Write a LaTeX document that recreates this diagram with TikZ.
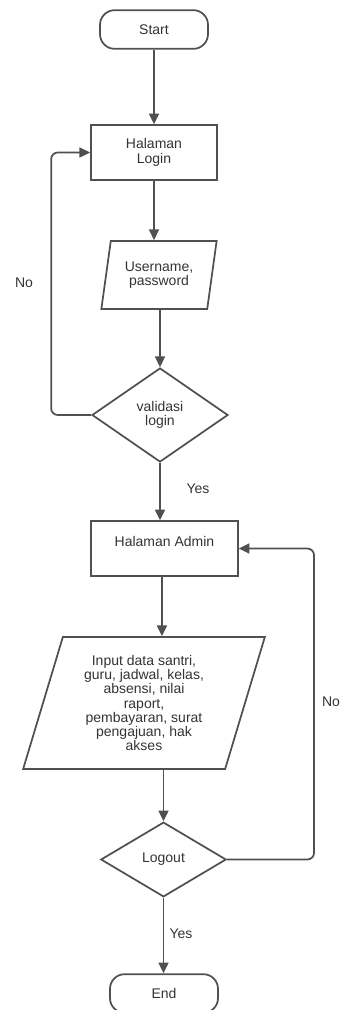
\documentclass[tikz,border=0pt]{standalone}
\usepackage{fontspec}
\setmainfont{Liberation Sans}
\usetikzlibrary{shapes.geometric,arrows.meta}
\definecolor{linegray}{HTML}{505050}
\definecolor{textgray}{HTML}{333333}
\begin{document}
\begin{tikzpicture}[x=0.75pt,y=-0.75pt,
  every node/.style={font=\fontsize{10.5pt}{10.7pt}\selectfont, text=textgray},
  base/.style={draw=linegray, line width=1.3pt, inner sep=0pt, align=center},
  terminal/.style={base, rectangle, rounded corners=11pt, minimum width=81pt, minimum height=29pt},
  process/.style={base, rectangle, minimum height=41pt},
  io/.style={base, trapezium, trapezium stretches=true},
  decision/.style={base, diamond},
  flow/.style={draw=linegray, line width=1.3pt, -{Triangle[length=8pt,width=7.5pt]}},
  tag/.style={inner sep=0pt}]
  \useasboundingbox (0,0) rectangle (341,1010);
  \clip (0,0) rectangle (341,1010);

  % shapes of the flow, top to bottom
  \node[terminal] (start) at (154,29.5) {Start};
  \node[process, minimum width=94.5pt] (login) at (154,152.5) {Halaman\\Login};
  \node[io, trapezium left angle=76, trapezium right angle=104,
        minimum width=87pt, minimum height=51pt] (user) at (159,275) {Username,\\password};
  \node[decision, minimum width=102pt, minimum height=70.5pt] (val) at (160,415) {validasi\\login};
  \node[process, minimum width=110pt] (admin) at (164.5,548.5) {Halaman Admin\\\mbox{}};
  \node[io, trapezium left angle=73, trapezium right angle=107,
        minimum width=181.5pt, minimum height=99pt] (input) at (144,703)
        {Input data santri,\\guru, jadwal, kelas,\\absensi, nilai\\raport,\\pembayaran, surat\\pengajuan, hak\\akses};
  \node[decision, minimum width=94pt, minimum height=56pt] (logout) at (163.5,859.5) {Logout};
  \node[terminal] (end) at (164,993.5) {End};

  % connectors
  \draw[flow] (start.south) -- (start.south |- login.north);
  \draw[flow] (login.south) -- (login.south |- user.north);
  \draw[flow] (val.north |- user.south) -- (val.north);
  \draw[flow] (val.south) -- (val.south |- admin.north);
  \draw[flow] ([xshift=-1.9pt]admin.south) -- ([xshift=-1.9pt]admin.south |- input.north);
  \draw[flow] (logout.north |- input.south) -- (logout.north);
  \draw[flow] (logout.south) -- (logout.south |- end.north);
  \draw[flow, rounded corners=5pt] (val.west) -- ++(-40,0) |- (login.west);
  \draw[flow, rounded corners=5pt] (logout.east) -- ++(87,0) |- (admin.east);

  % branch labels
  \node[tag] (no1) at (24,283) {No};
  \node[tag] (yes1) at (198,489) {Yes};
  \node[tag] (no2) at (331,702) {No};
  \node[tag] (yes2) at (181,934) {Yes};
\end{tikzpicture}
\end{document}
